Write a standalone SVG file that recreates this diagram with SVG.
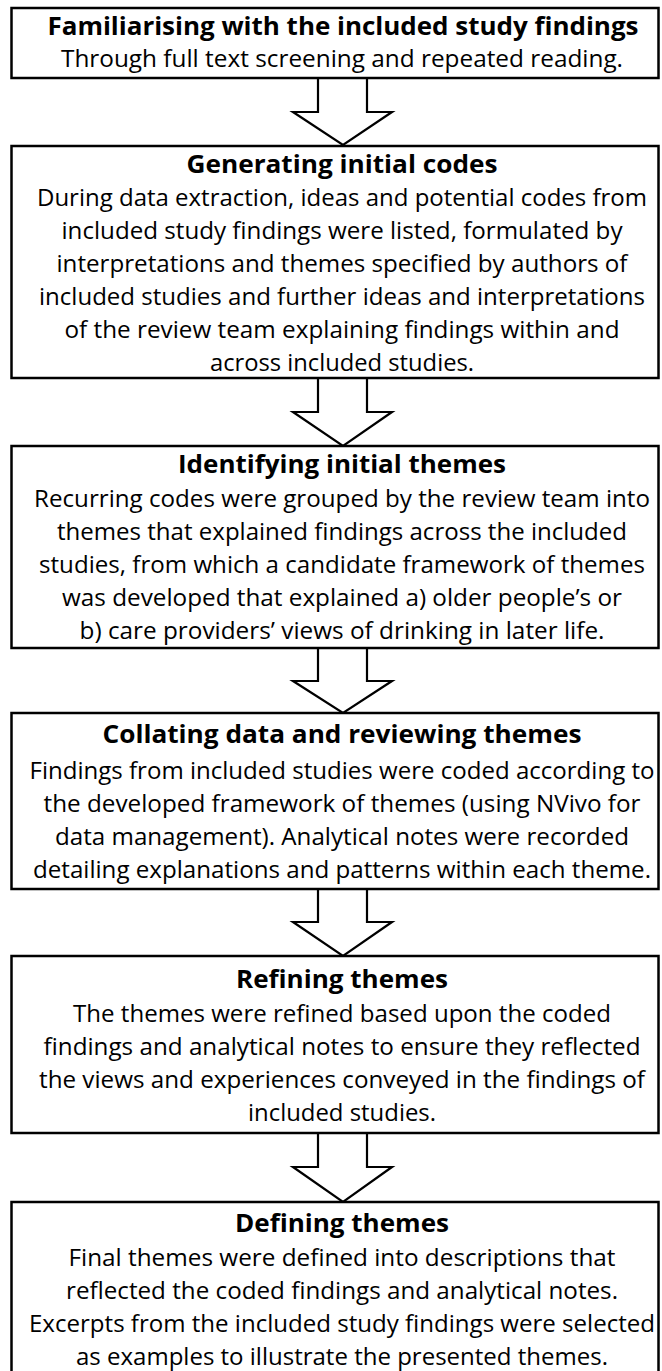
<svg xmlns="http://www.w3.org/2000/svg" width="662" height="1371" viewBox="0 0 662 1371">
<style>
.box{fill:#fff;stroke:#000;stroke-width:2.5}
.arr{fill:#fff;stroke:#000;stroke-width:2.2;stroke-linejoin:miter}
text{font-family:"Open Sans","Noto Sans","DejaVu Sans",sans-serif;font-size:24.2px;fill:#000;text-anchor:middle}
.t{font-weight:bold;font-size:25.5px}
</style>
<rect width="662" height="1371" fill="#fff"/>
<g id="connectors">
<polygon class="arr" points="318,78 367,78 367,112 392,112 343,145 293,112 318,112"/>
<polygon class="arr" points="318,378 367,378 367,412 392,412 343,446 293,412 318,412"/>
<polygon class="arr" points="318,648 367,648 367,681 392,681 343,713 293,681 318,681"/>
<polygon class="arr" points="318,889 367,889 367,922 392,922 343,956 293,922 318,922"/>
<polygon class="arr" points="318,1133 367,1133 367,1167 392,1167 343,1202 293,1167 318,1167"/>
</g>
<g id="n1">
<rect class="box" x="11.5" y="8" width="647" height="70"/>
<text class="t" x="343" y="35" textLength="591" lengthAdjust="spacingAndGlyphs">Familiarising with the included study findings</text>
<text x="342" y="67" textLength="562" lengthAdjust="spacingAndGlyphs">Through full text screening and repeated reading.</text>
</g>
<g id="n2">
<rect class="box" x="11.5" y="146" width="647" height="232"/>
<text class="t" x="342" y="173" textLength="311" lengthAdjust="spacingAndGlyphs">Generating initial codes</text>
<text x="342" y="206" textLength="610" lengthAdjust="spacingAndGlyphs">During data extraction, ideas and potential codes from</text>
<text x="342" y="239" textLength="561" lengthAdjust="spacingAndGlyphs">included study findings were listed, formulated by</text>
<text x="342" y="272" textLength="571" lengthAdjust="spacingAndGlyphs">interpretations and themes specified by authors of</text>
<text x="342" y="305" textLength="606" lengthAdjust="spacingAndGlyphs">included studies and further ideas and interpretations</text>
<text x="342" y="338" textLength="555" lengthAdjust="spacingAndGlyphs">of the review team explaining findings within and</text>
<text x="342" y="371" textLength="264" lengthAdjust="spacingAndGlyphs">across included studies.</text>
</g>
<g id="n3">
<rect class="box" x="11.5" y="446" width="647" height="202"/>
<text class="t" x="342" y="473" textLength="328" lengthAdjust="spacingAndGlyphs">Identifying initial themes</text>
<text x="342" y="507" textLength="616" lengthAdjust="spacingAndGlyphs">Recurring codes were grouped by the review team into</text>
<text x="342" y="540" textLength="570" lengthAdjust="spacingAndGlyphs">themes that explained findings across the included</text>
<text x="342" y="573" textLength="606" lengthAdjust="spacingAndGlyphs">studies, from which a candidate framework of themes</text>
<text x="342" y="606" textLength="560" lengthAdjust="spacingAndGlyphs">was developed that explained a) older people’s or</text>
<text x="342" y="639" textLength="525" lengthAdjust="spacingAndGlyphs">b) care providers’ views of drinking in later life.</text>
</g>
<g id="n4">
<rect class="box" x="11.5" y="713" width="647" height="176"/>
<text class="t" x="342" y="743" textLength="479" lengthAdjust="spacingAndGlyphs">Collating data and reviewing themes</text>
<text x="342" y="779" textLength="625" lengthAdjust="spacingAndGlyphs">Findings from included studies were coded according to</text>
<text x="342" y="812" textLength="597" lengthAdjust="spacingAndGlyphs">the developed framework of themes (using NVivo for</text>
<text x="342" y="845" textLength="574" lengthAdjust="spacingAndGlyphs">data management). Analytical notes were recorded</text>
<text x="342" y="878" textLength="618" lengthAdjust="spacingAndGlyphs">detailing explanations and patterns within each theme.</text>
</g>
<g id="n5">
<rect class="box" x="11.5" y="956" width="647" height="177"/>
<text class="t" x="342" y="988" textLength="212" lengthAdjust="spacingAndGlyphs">Refining themes</text>
<text x="342" y="1022" textLength="538" lengthAdjust="spacingAndGlyphs">The themes were refined based upon the coded</text>
<text x="342" y="1055" textLength="597" lengthAdjust="spacingAndGlyphs">findings and analytical notes to ensure they reflected</text>
<text x="342" y="1088" textLength="606" lengthAdjust="spacingAndGlyphs">the views and experiences conveyed in the findings of</text>
<text x="342" y="1121" textLength="188" lengthAdjust="spacingAndGlyphs">included studies.</text>
</g>
<g id="n6">
<rect class="box" x="11.5" y="1202" width="647" height="180"/>
<text class="t" x="342" y="1232" textLength="214" lengthAdjust="spacingAndGlyphs">Defining themes</text>
<text x="342" y="1266" textLength="547" lengthAdjust="spacingAndGlyphs">Final themes were defined into descriptions that</text>
<text x="342" y="1299" textLength="552" lengthAdjust="spacingAndGlyphs">reflected the coded findings and analytical notes.</text>
<text x="342" y="1332" textLength="626" lengthAdjust="spacingAndGlyphs">Excerpts from the included study findings were selected</text>
<text x="342" y="1365" textLength="532" lengthAdjust="spacingAndGlyphs">as examples to illustrate the presented themes.</text>
</g>
</svg>
